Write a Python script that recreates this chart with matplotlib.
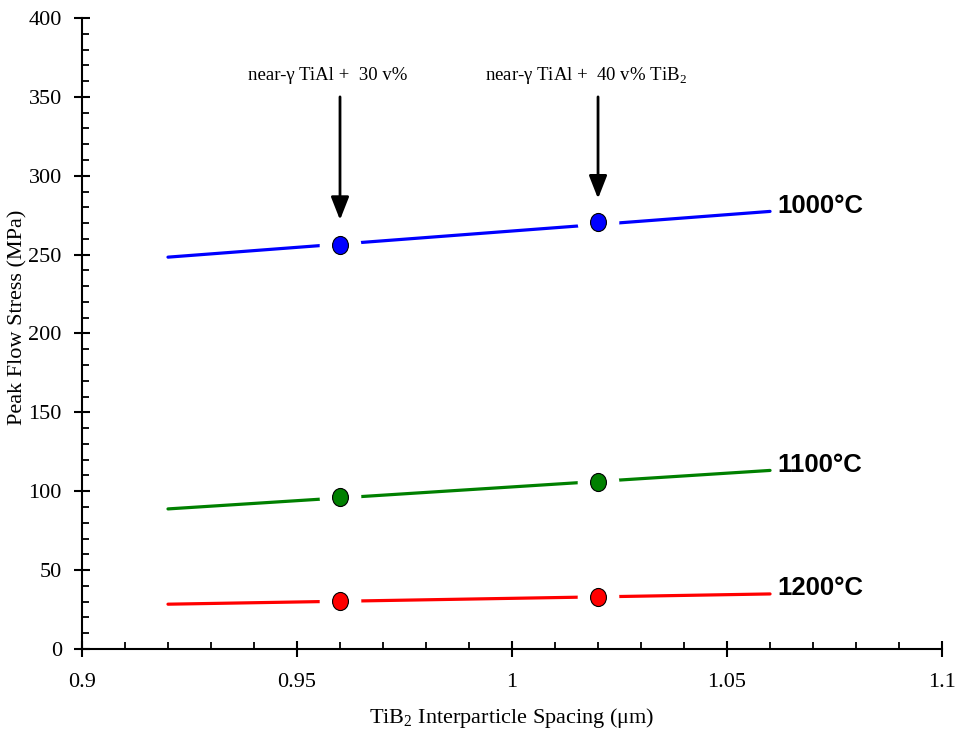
import numpy as np
import matplotlib.pyplot as plt
from matplotlib.path import Path
from matplotlib.ticker import MultipleLocator

# fitted trend lines (end points) and measured points
fit_x = [0.92, 1.06]
fit_1000 = [248.4, 277.4]
fit_1100 = [88.8, 113.2]
fit_1200 = [28.4, 34.9]

spacing = [0.96, 1.02]
stress_1000 = [256.0, 270.5]
stress_1100 = [96.2, 105.6]
stress_1200 = [30.4, 33.0]

temps = ['1000°C', '1100°C', '1200°C']
colors = ['#0000ff', '#008000', '#ff0000']

serif = ['Liberation Serif', 'DejaVu Serif']
plt.rcParams['font.family'] = serif
plt.rcParams['mathtext.fontset'] = 'custom'
plt.rcParams['mathtext.rm'] = 'Liberation Serif'

# slightly tall ellipse for the data points
circ = Path.unit_circle()
ellipse = Path(circ.vertices * np.array([0.88, 1.0]), circ.codes)

fig = plt.figure(figsize=(9.61, 7.32), dpi=100)
ax = fig.add_axes([0.0853, 0.1134, 0.8950, 0.8620])

fits = [fit_1000, fit_1100, fit_1200]
pts = [stress_1000, stress_1100, stress_1200]
for name, c, fy, py in zip(temps, colors, fits, pts):
    ax.plot(fit_x, fy, color=c, lw=2.3, zorder=2, solid_capstyle='round')
    # white halo so the line breaks around each point
    ax.plot(spacing, py, ls='none', marker='o', ms=30, mfc='white',
            mec='none', zorder=3)
    ax.plot(spacing, py, ls='none', marker=ellipse, ms=13, mfc=c,
            mec='black', mew=0.8, zorder=4)
    ax.annotate(name, xy=(fit_x[1], fy[1]), xytext=(5, -1),
                textcoords='offset points', fontsize=18.5, fontweight='bold',
                family=['Liberation Sans', 'DejaVu Sans'],
                va='baseline', ha='left')

# composition labels and arrows
arrow = dict(arrowstyle='-|>,head_width=0.55,head_length=1.4',
             color='black', lw=2, shrinkA=0, shrinkB=0)
ax.annotate('', xy=(0.96, 272), xytext=(0.96, 350), arrowprops=arrow)
ax.annotate('', xy=(1.02, 285.5), xytext=(1.02, 350), arrowprops=arrow)
ax.text(0.9386, 363.5, 'near-γ TiAl +  30 v%', fontsize=13.5, va='center',
        ha='left')
ax.text(0.9937, 363.5, 'near-γ TiAl +  40 v% TiB$_2$', fontsize=13.5,
        va='center', ha='left')

ax.set_xlim(0.9, 1.1)
ax.set_ylim(0, 400)
ax.xaxis.set_major_locator(MultipleLocator(0.05))
ax.xaxis.set_minor_locator(MultipleLocator(0.01))
ax.yaxis.set_major_locator(MultipleLocator(50))
ax.yaxis.set_minor_locator(MultipleLocator(10))
ax.set_xticks([0.9, 0.95, 1.0, 1.05, 1.1])
ax.set_xticklabels(['0.9', '0.95', '1', '1.05', '1.1'])

for s in ['top', 'right']:
    ax.spines[s].set_visible(False)
for s in ['left', 'bottom']:
    ax.spines[s].set_linewidth(1.5)

ax.tick_params(which='major', direction='inout', length=11, width=1.5,
               labelsize=16)
ax.tick_params(which='minor', direction='in', length=5, width=1.3)
ax.tick_params(axis='x', which='major', pad=12)
ax.tick_params(axis='y', which='major', pad=9)

ax.set_xlabel('TiB$_2$ Interparticle Spacing (μm)', fontsize=16)
ax.set_ylabel('Peak Flow Stress (MPa)', fontsize=16)
ax.xaxis.set_label_coords(0.5, -0.091)
ax.yaxis.set_label_coords(-0.063, 0.525)

fig.savefig('out.png', dpi=100)
